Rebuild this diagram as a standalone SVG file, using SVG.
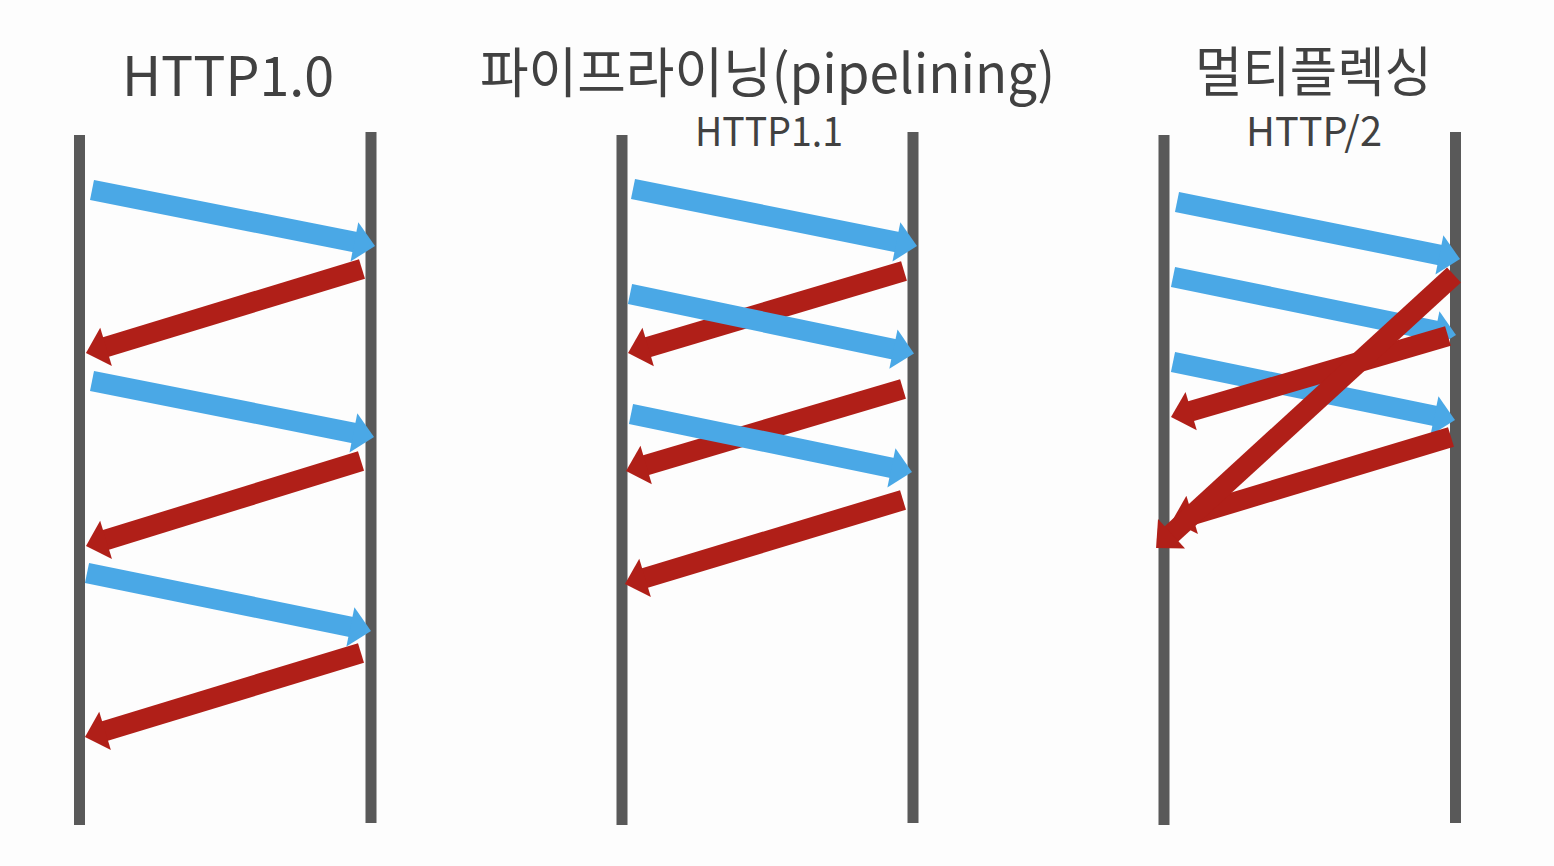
<svg xmlns="http://www.w3.org/2000/svg" width="1554" height="866" viewBox="0 0 1554 866">
<style>
.t{font-family:"Noto Sans CJK KR","Noto Sans",sans-serif;fill:#414141;text-anchor:start}
.big{font-size:54px}
.sub{font-size:40px}
.life{stroke:#595959;stroke-width:11;fill:none}
.req{stroke:#4aa8e6;stroke-width:20.5;fill:none;marker-end:url(#hb)}
.res{stroke:#b01f18;stroke-width:20.5;fill:none;marker-end:url(#hr)}
</style>
<defs>
<marker id="hb" markerUnits="userSpaceOnUse" orient="auto" refX="1" refY="0" markerWidth="30" markerHeight="44" viewBox="0 -22 30 44" overflow="visible"><path d="M0,-20 L21,0 L0,20 Z" fill="#4aa8e6"/></marker>
<marker id="hr" markerUnits="userSpaceOnUse" orient="auto" refX="1" refY="0" markerWidth="30" markerHeight="44" viewBox="0 -22 30 44" overflow="visible"><path d="M0,-20 L21,0 L0,20 Z" fill="#b01f18"/></marker>
</defs>
<rect width="1554" height="866" fill="#fdfdfd"/>

<g id="titles">
<text class="t big" x="122" y="96" textLength="212" lengthAdjust="spacingAndGlyphs">HTTP1.0</text>
<text class="t big" x="480" y="93" textLength="575" lengthAdjust="spacingAndGlyphs">파이프라이닝(pipelining)</text>
<text class="t sub" x="695" y="146" textLength="148" lengthAdjust="spacingAndGlyphs">HTTP1.1</text>
<text class="t big" x="1195" y="92" textLength="237" lengthAdjust="spacingAndGlyphs">멀티플렉싱</text>
<text class="t sub" x="1246" y="146" textLength="136" lengthAdjust="spacingAndGlyphs">HTTP/2</text>
</g>

<g id="lifelines">
<line class="life" x1="79.5" y1="135" x2="79.5" y2="825"/>
<line class="life" x1="371" y1="132" x2="371" y2="823"/>
<line class="life" x1="622" y1="135" x2="622" y2="825"/>
<line class="life" x1="913" y1="132" x2="913" y2="823"/>
<line class="life" x1="1164" y1="135" x2="1164" y2="825"/>
<line class="life" x1="1455.5" y1="132" x2="1455.5" y2="823"/>
</g>

<g id="connectors">
<g id="http10">
<path class="req" d="M92,190 L355.4,242.1"/>
<path class="res" d="M362,269 L105.1,347.2"/>
<path class="req" d="M92,381 L354.4,433.1"/>
<path class="res" d="M361,461 L105.1,540.1"/>
<path class="req" d="M87,573 L351.4,627"/>
<path class="res" d="M361,653 L104.1,731.2"/>
</g>
<g id="http11">
<path class="req" d="M633,189 L897.4,242.1"/>
<path class="res" d="M904,271 L647.2,347.3"/>
<path class="req" d="M630,294 L894.4,349.4"/>
<path class="res" d="M903,389 L645.2,465.3"/>
<path class="req" d="M631,414 L892.4,468"/>
<path class="res" d="M903,500 L644.1,578.2"/>
</g>
<g id="http2">
<path class="req" d="M1177,202 L1440.4,255.1"/>
<path class="req" d="M1173,277 L1436.4,331"/>
<path class="req" d="M1173,362 L1435.4,416"/>
<path class="res" d="M1448,336 L1190.2,411.4"/>
<path class="res" d="M1451,437 L1191.2,515.2"/>
<path class="res" d="M1454,275 L1170.8,534.5"/>
</g>
</g>
</svg>
